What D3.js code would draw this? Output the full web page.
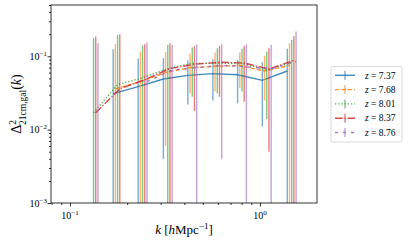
<!DOCTYPE html>
<html><head><meta charset="utf-8">
<script src="https://cdn.jsdelivr.net/npm/d3@7"></script>
<style>
html,body{margin:0;padding:0;background:#fff;}
text{font-family:"Liberation Serif","DejaVu Serif",serif;fill:#000;}
</style></head>
<body><svg id="c" width="411" height="242"></svg>
<script>
// ---- data ----
const kBins = [0.133, 0.178, 0.241, 0.327, 0.440, 0.596, 0.804, 1.085, 1.468];
const zLabels = ["7.37", "7.68", "8.01", "8.37", "8.76"];
const delta_z737 = [null, 0.031, 0.0385, 0.049, 0.055, 0.058, 0.056, 0.047, 0.063];
const err_z737   = [null, 0.094, 0.055, 0.045, 0.033, 0.033, 0.033, 0.036, 0.064];
const delta_z768 = [null, 0.036, 0.045, 0.060, 0.070, 0.073, 0.075, 0.063, 0.075];
const err_z768   = [null, 0.110, 0.071, 0.054, 0.039, 0.040, 0.038, 0.038, 0.076];
const delta_z801 = [0.017, 0.041, 0.051, 0.068, 0.080, 0.080, 0.080, 0.065, 0.082];
const err_z801   = [0.160, 0.153, 0.090, 0.075, 0.052, 0.049, 0.047, 0.051, 0.085];
const delta_z837 = [0.017, 0.036, 0.048, 0.068, 0.078, 0.083, 0.081, 0.067, 0.088];
const err_z837   = [0.169, 0.164, 0.098, 0.082, 0.060, 0.055, 0.057, 0.062, 0.100];
const delta_z876 = [0.017, null, 0.045, 0.065, 0.070, 0.075, 0.072, 0.068, 0.085];
const err_z876   = [0.134, null, 0.109, 0.077, 0.076, 0.071, 0.074, 0.074, 0.133];
const xMajor = [0.1, 1];
const yMajor = [1e-3, 1e-2, 1e-1];
const xTickLabels = ["−1", "0"];
const yTickLabels = ["−3", "−2", "−1"];

const values = [delta_z737, delta_z768, delta_z801, delta_z837, delta_z876];
const errors = [err_z737, err_z768, err_z801, err_z837, err_z876];
const colors = ["#1f77b4", "#ff7f0e", "#2ca02c", "#d62728", "#9467bd"];
const dashes = [null, "4.4,1.9", "1.2,2", "7.7,1.9,1.2,1.9", "3,5"];
const kShift = 1.027;

// ---- layout ----
const L = 51, R = 317, T = 5, B = 203;
const svg = d3.select("#c");
const x = d3.scaleLog().domain([Math.pow(10, -1.1), Math.pow(10, 0.3)]).range([L, R]);
const y = d3.scaleLog().domain([1e-3, Math.pow(10, -0.301)]).range([B, T]);

svg.append("defs").append("clipPath").attr("id", "clip")
  .append("rect").attr("x", L).attr("y", T).attr("width", R - L).attr("height", B - T);

const plot = svg.append("g").attr("clip-path", "url(#clip)");

values.forEach((vals, s) => {
  const pts = vals.map((v, i) => ({
    k: kBins[i] * Math.pow(kShift, s - 2), v: v, e: errors[s][i]
  }));
  const g = plot.append("g");
  // error bars
  g.selectAll("line.eb").data(pts.filter(d => d.v != null)).join("line")
    .attr("class", "eb")
    .attr("x1", d => x(d.k)).attr("x2", d => x(d.k))
    .attr("y1", d => y(d.v + d.e))
    .attr("y2", d => (d.v - d.e) > 0 ? y(d.v - d.e) : B + 10)
    .attr("stroke", colors[s]).attr("stroke-width", 1.4)
    .attr("stroke-opacity", 0.6);
  // line
  const line = d3.line().defined(d => d.v != null).x(d => x(d.k)).y(d => y(d.v));
  g.append("path").datum(pts).attr("d", line)
    .attr("fill", "none").attr("stroke", colors[s]).attr("stroke-width", 1.4)
    .attr("stroke-opacity", 0.85)
    .attr("stroke-dasharray", dashes[s]);
});

// ---- axes ----
function minors(lo, hi) {
  const out = [];
  for (let e = -3; e <= 1; e++) for (let m = 2; m <= 9; m++) {
    const v = m * Math.pow(10, e);
    if (v >= lo && v <= hi) out.push(v);
  }
  return out;
}
const xAxis = svg.append("g").attr("transform", `translate(0,${B})`)
  .call(d3.axisBottom(x).tickValues(xMajor).tickSize(3.5).tickSizeOuter(0).tickFormat(() => ""));
const xMin = svg.append("g").attr("transform", `translate(0,${B})`)
  .call(d3.axisBottom(x).tickValues(minors(x.domain()[0], x.domain()[1])).tickSize(2).tickSizeOuter(0).tickFormat(() => ""));
const yAxis = svg.append("g").attr("transform", `translate(${L},0)`)
  .call(d3.axisLeft(y).tickValues(yMajor).tickSize(3.5).tickSizeOuter(0).tickFormat(() => ""));
const yMin = svg.append("g").attr("transform", `translate(${L},0)`)
  .call(d3.axisLeft(y).tickValues(minors(y.domain()[0], y.domain()[1])).tickSize(2).tickSizeOuter(0).tickFormat(() => ""));
[xAxis, xMin, yAxis, yMin].forEach(a => {
  a.select(".domain").remove();
  a.selectAll("line").attr("stroke", "#000").attr("stroke-width", 0.8);
});

// tick labels
xMajor.forEach((v, i) => {
  const t = svg.append("text").attr("x", x(v)).attr("y", 219)
    .attr("text-anchor", "middle").attr("font-size", 10);
  t.append("tspan").text("10");
  t.append("tspan").attr("dy", -4).attr("font-size", 7).text(xTickLabels[i]);
});
yMajor.forEach((v, i) => {
  const t = svg.append("text").attr("x", 47).attr("y", y(v) + 3.5)
    .attr("text-anchor", "end").attr("font-size", 10);
  t.append("tspan").text("10");
  t.append("tspan").attr("dy", -4).attr("font-size", 7).text(yTickLabels[i]);
});

// spines
svg.append("rect").attr("x", L).attr("y", T).attr("width", R - L).attr("height", B - T)
  .attr("fill", "none").attr("stroke", "#000").attr("stroke-width", 0.8);

// axis labels
const xl = svg.append("text").attr("x", (L + R) / 2).attr("y", 234)
  .attr("text-anchor", "middle").attr("font-size", 13);
xl.append("tspan").attr("font-style", "italic").text("k");
xl.append("tspan").text(" [");
xl.append("tspan").attr("font-style", "italic").text("h");
xl.append("tspan").text("Mpc");
xl.append("tspan").attr("dy", -5).attr("font-size", 9).text("−1");
xl.append("tspan").attr("dy", 5).text("]");

const yl = svg.append("text").attr("transform", `translate(21,${(T + B) / 2}) rotate(-90)`)
  .attr("text-anchor", "middle").attr("font-size", 14);
yl.append("tspan").text("Δ");
yl.append("tspan").attr("dy", -5.5).attr("font-size", 9.5).text("2");
yl.append("tspan").attr("dx", -5).attr("dy", 10).attr("font-size", 9.5).text("21cm,gal");
yl.append("tspan").attr("dy", -4.5).text("(");
yl.append("tspan").attr("font-style", "italic").text("k");
yl.append("tspan").text(")");

// ---- legend ----
const lg = svg.append("g");
lg.append("rect").attr("x", 331).attr("y", 66.5).attr("width", 71).attr("height", 75.5)
  .attr("rx", 2).attr("fill", "#fff").attr("fill-opacity", 0.8)
  .attr("stroke", "#d0d0d0").attr("stroke-width", 0.8);
zLabels.forEach((z, s) => {
  const yy = 75.3 + s * 14.3;
  lg.append("line").attr("x1", 335).attr("x2", 355).attr("y1", yy).attr("y2", yy)
    .attr("stroke", colors[s]).attr("stroke-width", 1.4).attr("stroke-opacity", 0.85)
    .attr("stroke-dasharray", dashes[s]);
  lg.append("line").attr("x1", 345).attr("x2", 345).attr("y1", yy - 4.5).attr("y2", yy + 4.5)
    .attr("stroke", colors[s]).attr("stroke-width", 1.4).attr("stroke-opacity", 0.6);
  const t = lg.append("text").attr("x", 365).attr("y", yy + 3.2).attr("font-size", 9.5);
  t.append("tspan").attr("font-style", "italic").text("z");
  t.append("tspan").text(" = " + z);
});
</script></body></html>
